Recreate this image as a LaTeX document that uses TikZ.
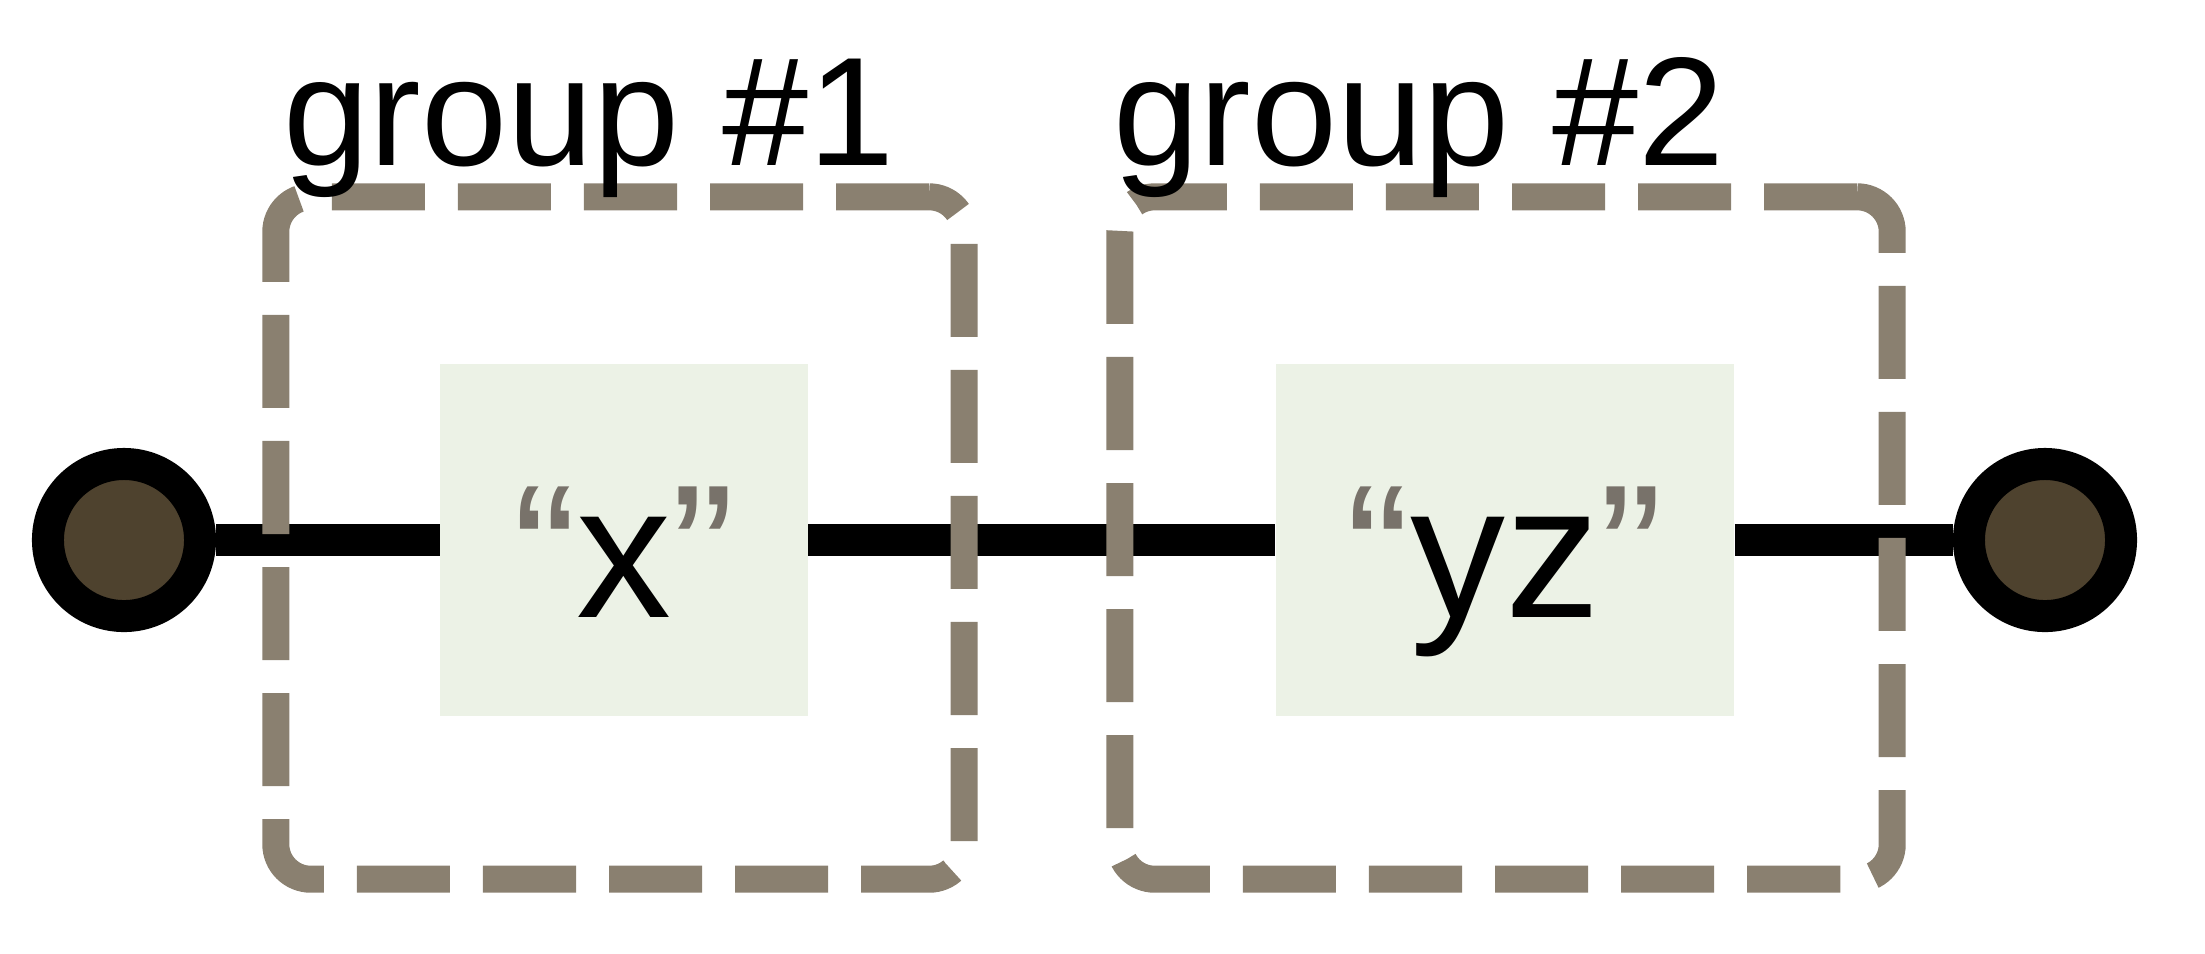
\documentclass[tikz,border=0pt]{standalone}
\usepackage{fontspec}
\setmainfont{Liberation Sans}
\usetikzlibrary{positioning}
\definecolor{groupgray}{RGB}{138,128,112}
\definecolor{boxgreen}{RGB}{236,242,230}
\definecolor{termbrown}{RGB}{78,66,46}
\definecolor{quotegray}{RGB}{120,114,106}
\newcommand{\quoted}[1]{\textcolor{quotegray}{“}#1\textcolor{quotegray}{”}}

\begin{document}
\begin{tikzpicture}[x=0.01cm, y=-0.01cm,
    word node/.style={rectangle,fill=boxgreen,minimum height=3.51cm,inner sep=0pt,
      text height=1.54cm,text depth=0pt,font=\fontsize{54}{60}\selectfont},
    end node/.style={circle,draw=black,fill=termbrown,line width=0.32cm,
      minimum size=1.52cm,inner sep=0pt},
    group node/.style={rectangle,draw=groupgray,line width=0.27cm,
      dash pattern=on 0.93cm off 0.33cm,rounded corners=0.35cm,
      minimum height=6.82cm,inner sep=0pt},
    group label/.style={anchor=base west,inner sep=0pt,font=\fontsize{44}{52}\selectfont},
    wire/.style={line width=0.32cm}]

      \useasboundingbox (0,0) rectangle (2205,953);

      \node[word node,minimum width=3.67cm] (x) at (624,540) {\quoted{x}};
      \node[word node,minimum width=4.58cm] (yz) at (1505,540) {\quoted{yz}};
      \node[end node] (in) at (124,540) {};
      \node[end node] (out) at (2045,540) {};

      \draw[wire] (in) -- (x);
      \draw[wire] (x) -- (yz);
      \draw[wire] (yz) -- (out);

      \node[group node,minimum width=6.88cm] (g1) at (620,538) {};
      \node[group node,minimum width=7.72cm] (g2) at (1506,538) {};

      \node[group label] (l1) at (283,165) {group \#1};
      \node[group label] (l2) at (1113,165) {group \#2};

\end{tikzpicture}
\end{document}
